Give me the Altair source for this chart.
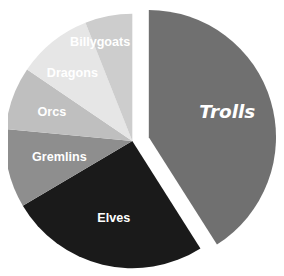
import altair as alt
import pandas as pd

names = ["Trolls", "Elves", "Gremlins", "Orcs", "Dragons", "Billygoats"]
values = [41, 25.5, 10, 8, 9.5, 6]
colors = ["#707070", "#1a1a1a", "#8e8e8e", "#bfbfbf", "#e6e6e6", "#cdcdcd"]

df = pd.DataFrame({"name": names, "value": values, "idx": list(range(len(names)))})

color = alt.Color("name:N", scale=alt.Scale(domain=names, range=colors), legend=None)
base = alt.Chart(df).encode(
    theta=alt.Theta("value:Q", stack=True),
    order=alt.Order("idx:Q"),
)

CX, CY = 128, 133
TX, TY = 145, 129
R = 131

is_troll = "datum.name == 'Trolls'"

main = base.mark_arc(outerRadius=R).encode(
    x=alt.value(CX), y=alt.value(CY), color=color,
    opacity=alt.condition(is_troll, alt.value(0), alt.value(1)),
)
troll = base.mark_arc(outerRadius=R).encode(
    x=alt.value(TX), y=alt.value(TY), color=color,
    opacity=alt.condition(is_troll, alt.value(1), alt.value(0)),
)


def label_layer(name, radius, offset, cx=CX, cy=CY, **kw):
    style = dict(font="Liberation Sans", fontWeight="bold", fontSize=13)
    style.update(kw)
    return base.mark_text(radius=radius, thetaOffset=offset, **style).encode(
        x=alt.value(cx), y=alt.value(cy),
        text="name:N",
        color=alt.value("white"),
        opacity=alt.condition(f"datum.name == '{name}'", alt.value(1), alt.value(0)),
    )


layers = [
    label_layer("Billygoats", 107, -0.126),
    label_layer("Dragons", 93, -0.05),
    label_layer("Orcs", 88, 0),
    label_layer("Gremlins", 77, 0),
    label_layer("Elves", 82, 0),
    label_layer("Trolls", 85, -0.03, TX, TY, font="DejaVu Sans",
                fontStyle="italic", fontSize=19),
]

chart = alt.layer(main, troll, *layers).properties(
    width=276, height=268, padding=0,
    autosize=alt.AutoSizeParams(type="none"),
).configure_view(stroke=None)

chart.save("out.html", embed_options={"renderer": "svg", "actions": False})
